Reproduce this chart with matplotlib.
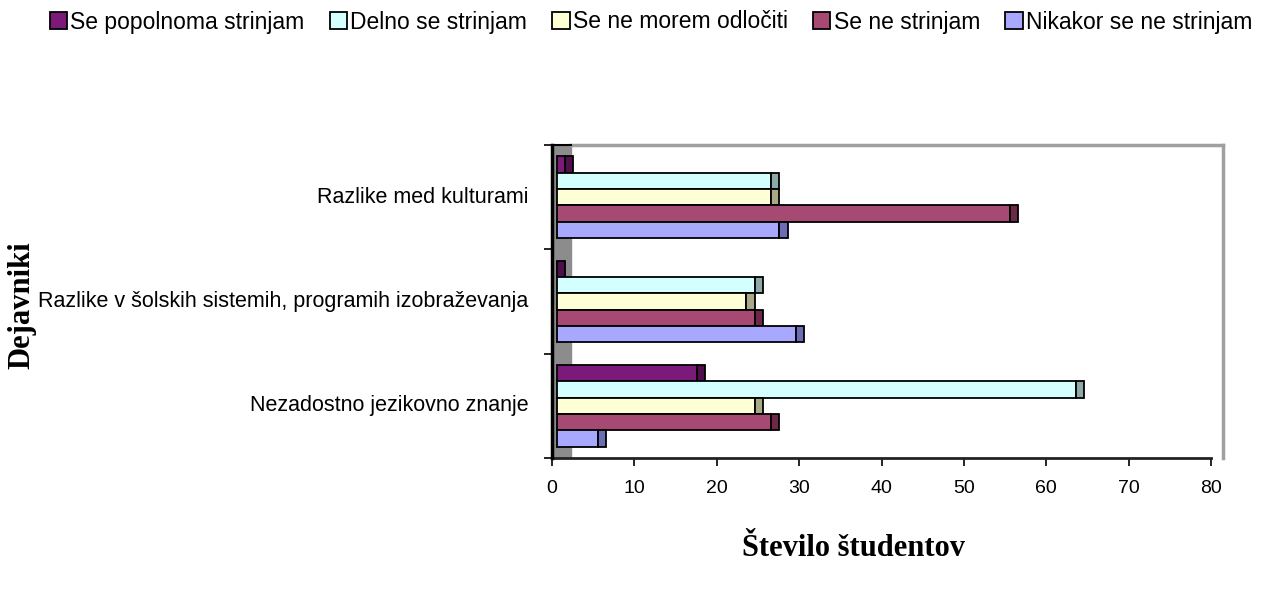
import matplotlib
matplotlib.use("Agg")
import matplotlib.pyplot as plt
from matplotlib.patches import Patch

# categories bottom -> top
categories = ["Nezadostno jezikovno znanje",
              "Razlike v šolskih sistemih, programih izobraževanja",
              "Razlike med kulturami"]
series = ["Se popolnoma strinjam", "Delno se strinjam", "Se ne morem odločiti",
          "Se ne strinjam", "Nikakor se ne strinjam"]
popolnoma = [17, 0, 1]
delno = [63, 24, 26]
neodlocen = [24, 23, 26]
ne_strinjam = [26, 24, 55]
nikakor = [5, 29, 27]
values = [popolnoma, delno, neodlocen, ne_strinjam, nikakor]

front_cols = ["#7b1a78", "#d4ffff", "#ffffd6", "#a64a74", "#a8a8ff"]
side_cols = ["#4e0f4c", "#8fa8a8", "#a9a98a", "#6e2848", "#6d6db5"]

fig = plt.figure(figsize=(12.74, 5.9), dpi=100)
ax = fig.add_axes([552 / 1274, 1 - 458 / 590, (1224 - 552) / 1274, (458 - 145) / 590])

xmax = 80 * 672 / 659
ax.set_xlim(0, xmax)
ax.set_ylim(0, 3)

off = 0.6    # front face starts a bit right of the axis (3D look)
cap = 1.0    # depth of bar end
h = 0.157
for i, vals in enumerate(values):
    ys = [k + 0.5 + (2 - i) * h for k in range(3)]
    ax.barh(ys, vals, height=h, left=off, color=front_cols[i],
            edgecolor="black", linewidth=1.3, zorder=3)
    ax.barh(ys, [cap] * 3, height=h, left=[off + v for v in vals],
            color=side_cols[i], edgecolor="black", linewidth=1.3, zorder=3)

# gray side wall
ax.axvspan(0, 2.3, color="#8c8c8c", zorder=1)
# frame
ax.plot([2.3, xmax - 0.1], [3, 3], color="#a0a0a0", lw=2.5, zorder=2, clip_on=False)
ax.plot([xmax - 0.1, xmax - 0.1], [3, 0], color="#a0a0a0", lw=2.5, zorder=2, clip_on=False)
ax.plot([0, 2.3], [3, 3], color="black", lw=1.5, zorder=2, clip_on=False)
ax.plot([0, 80], [0, 0], color="#222222", lw=2, zorder=4, clip_on=False)
ax.plot([0, 0], [0, 3], color="black", lw=2.5, zorder=4, clip_on=False)
for s in ax.spines.values():
    s.set_visible(False)

ax.set_xticks(range(0, 81, 10))
ax.set_xticklabels([str(t) for t in range(0, 81, 10)], fontsize=14,
                   family="Liberation Sans")
ax.tick_params(axis="x", length=6, width=1.2, pad=10)
ax.set_yticks([0, 1, 2, 3], minor=False)
ax.set_yticklabels([])
ax.tick_params(axis="y", length=6, width=1.2)
for k, c in enumerate(categories):
    ax.text(-0.035, (k + 0.5) / 3, c, transform=ax.transAxes, ha="right",
            va="center", fontsize=15.5, family="Liberation Sans")

fig.text(22 / 1274, 1 - 305 / 590, "Dejavniki", rotation=90, ha="center",
         va="center", fontsize=22, fontweight="bold", family="Liberation Serif")
fig.text(853 / 1274, 1 - 548 / 590, "Število študentov", ha="center",
         va="center", fontsize=22, fontweight="bold", family="Liberation Serif")

handles = [Patch(facecolor=c, edgecolor="black", linewidth=1.3) for c in front_cols]
fig.legend(handles, series, loc="center", bbox_to_anchor=(651 / 1274, 1 - 22 / 590),
           ncol=5, frameon=False, handlelength=0.75, handleheight=0.75,
           handletextpad=0.15, columnspacing=1.1,
           prop={"family": "Liberation Sans", "size": 16.5})

fig.savefig("out.png", dpi=100)
